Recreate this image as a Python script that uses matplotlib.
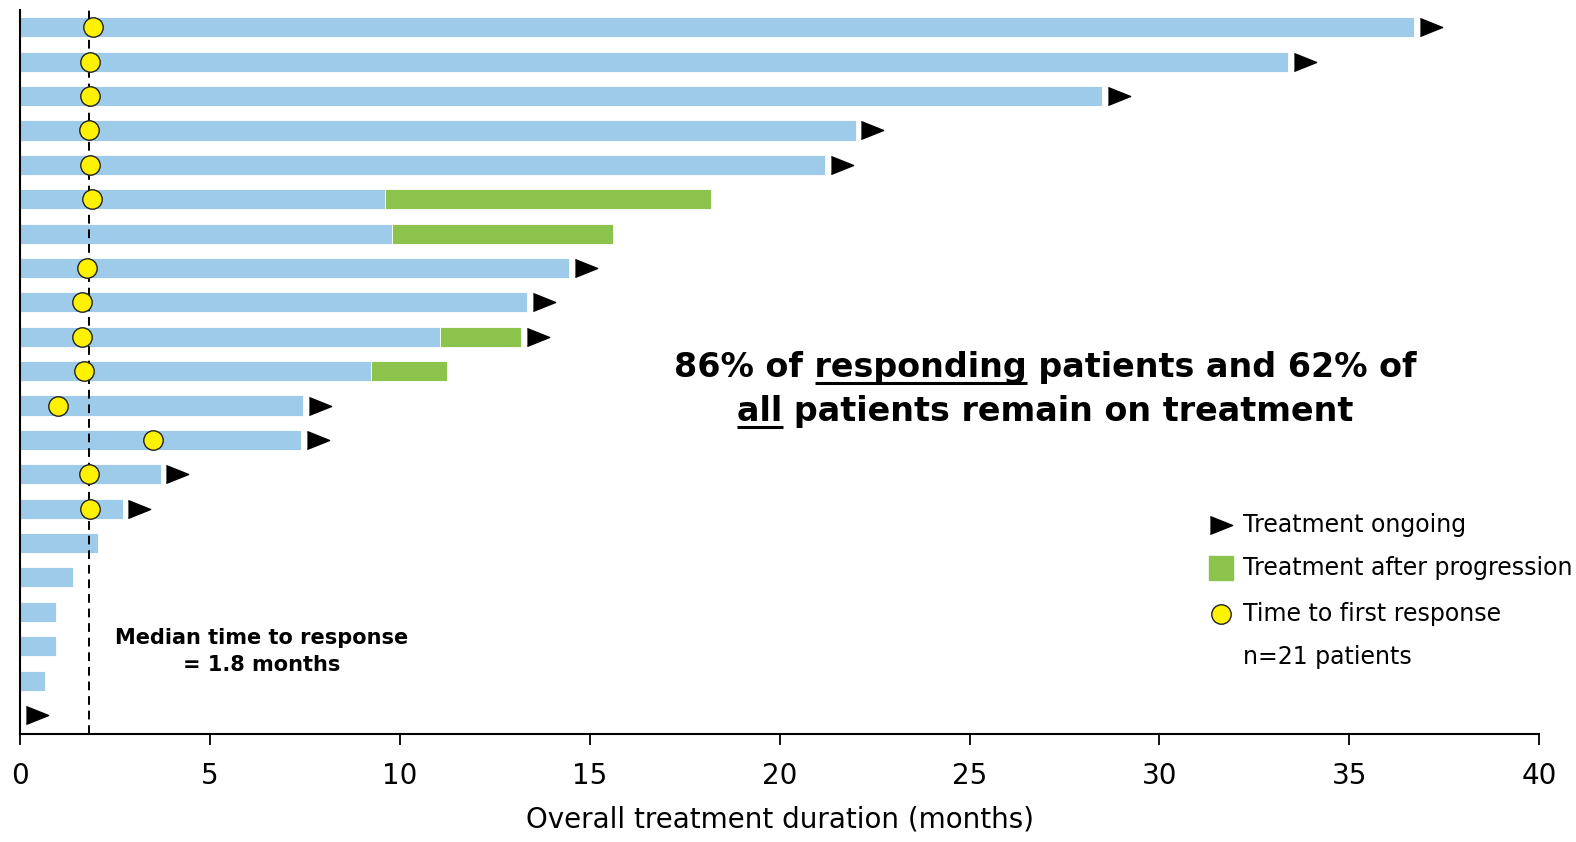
import numpy as np
import matplotlib
matplotlib.use("Agg")
import matplotlib.pyplot as plt

# one row per patient, longest treatment first
total_months = [36.7, 33.4, 28.5, 22.0, 21.2, 18.2, 15.6, 14.45, 13.35, 13.2,
                11.25, 7.45, 7.4, 3.7, 2.7, 2.05, 1.4, 0.95, 0.95, 0.65, 0.0]
progression_months = [np.nan, np.nan, np.nan, np.nan, np.nan, 9.6, 9.8, np.nan,
                      np.nan, 11.05, 9.25, np.nan, np.nan, np.nan, np.nan, np.nan,
                      np.nan, np.nan, np.nan, np.nan, np.nan]
response_months = [1.93, 1.83, 1.85, 1.8, 1.85, 1.88, np.nan, 1.75, 1.64, 1.64,
                   1.69, 1.0, 3.49, 1.8, 1.83, np.nan, np.nan, np.nan, np.nan,
                   np.nan, np.nan]
ongoing = [True, True, True, True, True, False, False, True, True, True,
           False, True, True, True, True, False, False, False, False, False, True]
median_response = 1.8
x_ticks = [0, 5, 10, 15, 20, 25, 30, 35, 40]

BLUE = "#9fcbeb"
GREEN = "#8cc34c"
YELLOW = "#fff200"
ARROW = [(-1, -0.8), (1, 0), (-1, 0.8)]

plt.rcParams["font.family"] = "DejaVu Sans"

fig = plt.figure(figsize=(15.76, 8.42), dpi=100)
ax = fig.add_axes([0.0128, 0.128, 0.9638, 0.860])

rows = np.arange(len(total_months))
total = np.array(total_months)
prog = np.array(progression_months)
blue_end = np.where(np.isnan(prog), total, prog)
green_len = np.where(np.isnan(prog), 0, total - prog)

ax.barh(rows, blue_end, height=0.585, color=BLUE, edgecolor="white", linewidth=0.6, zorder=2)
ax.barh(rows, green_len, left=np.nan_to_num(prog), height=0.585, color=GREEN,
        edgecolor="white", linewidth=0.6, zorder=2)

arrow_rows = rows[np.array(ongoing)]
ax.plot(total[arrow_rows] + 0.44, arrow_rows, linestyle="none", marker=ARROW,
        markersize=16, color="black", zorder=3)

ax.axvline(median_response, color="black", linewidth=1.4, linestyle=(0, (4.5, 3)), zorder=3)

ax.plot(response_months, rows, linestyle="none", marker="o", markersize=14,
        markerfacecolor=YELLOW, markeredgecolor="#222222", markeredgewidth=1.0, zorder=4)

ax.set_xlim(0, 40)
ax.set_ylim(20.56, -0.5)
ax.set_xticks(x_ticks)
ax.set_yticks([])
ax.tick_params(axis="x", direction="out", length=8, width=1.3, labelsize=20, pad=12)
for side in ("top", "right"):
    ax.spines[side].set_visible(False)
for side in ("left", "bottom"):
    ax.spines[side].set_linewidth(1.5)
ax.set_xlabel("Overall treatment duration (months)", fontsize=20, labelpad=11)

ax.text(6.35, 18.15, "Median time to response\n= 1.8 months", ha="center", va="center",
        fontsize=15, fontweight="bold", linespacing=1.4)

# headline with underlined words
renderer = fig.canvas.get_renderer()


def underlined_line(x, y, parts, size):
    full = "".join(p for p, _ in parts)
    t = ax.text(x, y, full, ha="center", va="center", fontsize=size, fontweight="bold",
                transform=ax.transAxes)
    bb = t.get_window_extent(renderer)
    cursor = bb.x0
    for piece, under in parts:
        tmp = ax.text(0, 0, piece.replace(" ", "\u00a0"), fontsize=size, fontweight="bold")
        w = tmp.get_window_extent(renderer).width
        tmp.remove()
        if under:
            y_line = bb.y0 + 1
            ax.plot([cursor, cursor + w], [y_line, y_line], color="black", linewidth=2.2,
                    transform=None, solid_capstyle="butt")
        cursor += w


underlined_line(0.675, 0.507, [("86% of ", False), ("responding", True),
                               (" patients and 62% of", False)], 24)
underlined_line(0.675, 0.446, [("all", True), (" patients remain on treatment", False)], 24)

# legend
lx, tx = 0.7907, 0.805
ax.plot([lx], [0.289], transform=ax.transAxes, marker=ARROW, markersize=16,
        color="black", linestyle="none", clip_on=False)
ax.text(tx, 0.289, "Treatment ongoing", transform=ax.transAxes, va="center", fontsize=17)
ax.plot([lx], [0.229], transform=ax.transAxes, marker="s", markersize=17,
        color=GREEN, linestyle="none", clip_on=False)
ax.text(tx, 0.229, "Treatment after progression", transform=ax.transAxes, va="center", fontsize=17)
ax.plot([lx], [0.166], transform=ax.transAxes, marker="o", markersize=14,
        markerfacecolor=YELLOW, markeredgecolor="#222222", markeredgewidth=1.0,
        linestyle="none", clip_on=False)
ax.text(tx, 0.166, "Time to first response", transform=ax.transAxes, va="center", fontsize=17)
ax.text(tx, 0.106, "n=21 patients", transform=ax.transAxes, va="center", fontsize=17)

fig.savefig("out.png", dpi=100)
